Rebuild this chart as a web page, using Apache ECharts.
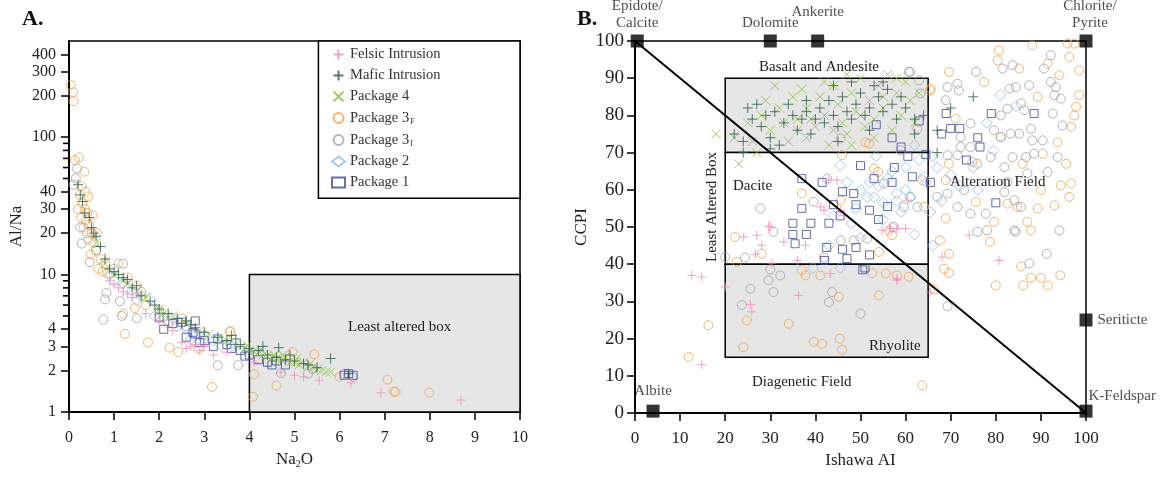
<!DOCTYPE html>
<html>
<head>
<meta charset="utf-8">
<script src="https://cdn.jsdelivr.net/npm/echarts@6/dist/echarts.min.js"></script>
<style>
html, body { margin: 0; padding: 0; background: #fff; }
#chart { width: 1165px; height: 477px; }
</style>
</head>
<body>
<div id="chart"></div>
<script>
// ---- panel A: Na2O vs Al/Na ----
const felsicA = [[0.9,9.0],[1.0,8.5],[1.1,8.0],[1.2,7.5],[1.3,7.2],[1.4,6.8],[1.5,7.3],[1.7,5.2],[2.0,4.5],[2.3,3.9],[2.5,3.2],[2.6,2.9],[2.7,3.0],[2.8,3.1],[2.9,2.8],[3.0,3.0],[3.2,2.6],[3.5,2.7],[4.1,2.3],[4.7,1.95],[5.0,1.85],[5.2,1.8],[5.55,1.7],[6.25,1.63],[6.92,1.38],[8.69,1.22]];
const maficA = [[0.2,45],[0.25,38],[0.3,34],[0.35,28],[0.45,26],[0.5,22],[0.55,20],[0.6,19],[0.7,16],[0.8,13],[0.9,11],[1.0,10.5],[1.1,10],[1.2,9.5],[1.3,9.2],[1.4,8],[1.5,8.3],[1.6,7],[1.8,6.4],[1.9,6.0],[2.0,5.6],[2.2,5.2],[2.4,4.8],[2.5,4.4],[2.6,4.6],[2.7,4.3],[2.8,4.1],[3.0,3.8],[3.3,3.5],[3.5,3.3],[3.6,3.6],[3.7,3.4],[3.8,3.1],[4.0,2.9],[4.2,2.8],[4.3,3.0],[4.4,2.6],[4.6,2.5],[4.65,2.94],[4.8,2.4],[4.9,2.6],[5.0,2.35],[5.2,2.25],[5.3,2.2],[5.5,2.1],[5.8,2.45],[6.2,1.9]];
const pkg4A = [[0.6,17],[0.8,12],[1.0,10],[1.2,9],[1.3,8.5],[1.5,7.5],[1.7,6.8],[2.0,5.6],[2.1,5.2],[2.3,5],[2.6,4.4],[2.9,3.9],[3.1,3.7],[3.3,3.4],[3.5,3.3],[3.7,3.1],[3.8,2.95],[3.9,2.9],[3.95,3.05],[4.0,2.8],[4.1,2.75],[4.2,2.7],[4.25,2.85],[4.3,2.6],[4.4,2.55],[4.5,2.5],[4.55,2.6],[4.6,2.45],[4.7,2.4],[4.75,2.6],[4.8,2.5],[4.9,2.3],[5.0,2.3],[5.05,2.45],[5.1,2.2],[5.2,2.3],[5.3,2.15],[5.35,2.25],[5.4,2.1],[5.5,2.05],[5.6,2.0],[5.7,1.95],[5.8,1.95]];
const pkg3fA = [[0.04,239],[0.09,212],[0.1,182],[0.13,68],[0.22,71],[0.34,56],[0.28,44],[0.24,38],[0.43,37],[0.36,40],[0.2,30],[0.3,33],[0.35,30],[0.4,28],[0.27,26],[0.52,27],[0.38,25],[0.45,23],[0.32,22],[0.5,20],[0.62,20],[0.42,18],[0.55,17],[0.6,15],[0.48,14],[0.7,13],[0.8,12],[1.1,12],[0.65,11],[0.75,10.5],[0.85,10.2],[1.3,9.5],[1.5,8.3],[1.7,6],[1.46,5.7],[1.2,5.2],[2.0,5.5],[2.5,4.8],[2.2,4.4],[1.24,3.7],[1.75,3.2],[2.42,2.73],[2.23,2.94],[2.86,2.9],[3.56,3.82],[3.58,3.87],[3.17,1.52],[4.08,1.29],[4.1,1.88],[4.6,1.56],[4.96,2.73],[5.44,2.63],[6.0,1.8],[7.06,1.72],[7.2,1.41],[7.24,1.4],[7.99,1.38]];
const pkg3iA = [[0.15,50],[0.18,59],[0.1,45],[0.25,22],[0.28,16.8],[0.4,20],[0.46,12.3],[0.6,15],[0.76,4.7],[0.8,6.6],[0.83,7.35],[1.0,11],[1.13,6.4],[1.17,5],[1.2,12],[1.5,4.8],[1.6,7.5],[2.1,4.9],[2.6,4.2],[3.0,3.6],[3.3,2.19],[3.75,2.19],[4.7,1.92],[5.3,1.9],[5.4,2.05],[6.1,1.9],[6.3,1.8]];
const pkg2A = [[0.9,10],[1.0,9],[1.2,8.6],[1.3,8],[1.5,6.5],[1.6,7],[1.8,6.6],[1.9,5],[2.0,5.3],[2.2,4.6],[2.3,4.8],[2.4,4.2],[2.6,4.0],[2.7,3.4],[2.8,3.6],[3.0,3.4],[3.2,3.3],[3.4,3.0],[3.6,3.0]];
const pkg1A = [[2.0,4.9],[2.1,4.0],[2.3,4.4],[2.5,4.5],[2.6,3.5],[2.75,3.8],[2.8,4.6],[2.8,3.7],[2.9,3.2],[3.0,3.3],[3.2,3.0],[3.3,3.4],[3.5,3.1],[3.6,2.9],[3.8,2.8],[3.9,2.55],[4.0,2.6],[4.2,2.4],[4.4,2.3],[4.5,2.2],[4.6,2.35],[4.8,2.2],[6.1,1.85],[6.2,1.9],[6.3,1.85]];
const logMajor = [1, 2, 3, 4, 10, 20, 30, 40, 100, 200, 300, 400];
const logMinor = [5, 6, 7, 8, 9, 50, 60, 70, 80, 90];
const legendBoxA = [[5.53, 35.9], [10, 500]];
const leastBoxA = [[4, 1], [10, 10]];

// ---- panel B: Ishikawa AI vs CCPI ----
const felsicB = [[12.6,37],[14.8,36.6],[20,33.9],[25.6,29.2],[25.9,27.2],[14.8,13],[36.3,31.6],[24.1,47.3],[27,47.8],[28.1,45.1],[26.7,42.7],[33,46],[30.4,40.3],[36,41],[37.8,45.1],[43.3,37.5],[29.6,50.2],[44.8,62.6],[41.1,55.4],[58.1,49.6],[60,49.6],[46.3,53.1],[60.4,57.2],[58.1,36.1],[30.1,50],[54.8,49.1],[56.7,49.6],[43,62.6],[45.6,54.5],[41.9,54.5],[68.1,41.9],[80.7,41],[58.1,35.7],[65.6,32.5],[74.1,47.8]];
const maficB = [[22,75],[24,73],[24,70],[25,82],[26,79],[27,83],[28,77],[29,80],[30,74],[30,71],[31,81],[32,72],[33,78],[34,83],[35,80],[36,76],[37,79],[38,81],[38,84],[39,75],[40,79],[41,82],[42,78],[43,84],[44,80],[44,88],[45,77],[45,73],[46,85],[47,81],[48,79],[48,89],[49,83],[50,86],[51,80],[52,82],[52,76],[53,88],[54,85],[55,81],[55,89],[56,87],[57,83],[58,79],[59,85],[60,82],[62,79],[62,75],[64,80],[67,76],[67,70],[70,82],[75,85]];
const pkg4B = [[18,75],[23,67],[27,70],[22,74],[25,78],[26,73],[28,80],[29,84],[30,76],[31,88],[32,82],[33,78],[34,73],[35,85],[36,79],[36,76],[37,87],[38,74],[38,82],[39,79],[40,77],[41,85],[42,80],[42,89],[43,72],[44,88],[44,76],[45,83],[46,78],[47,75],[47,91],[48,86],[48,72],[49,81],[50,90],[50,80],[51,77],[52,84],[53,79],[53,74],[54,88],[55,82],[55,85],[56,91],[57,76],[58,86],[58,90],[59,80],[60,89],[61,84],[62,78],[63,86]];
const pkg3fB = [[80.7,97.5],[88.1,98.8],[95.9,99.3],[97.4,99.3],[80.4,94.8],[85.2,92.6],[91.5,93.9],[96.3,95.7],[98.5,92.1],[94.1,90.8],[77.4,89],[69.6,91.7],[65.6,87.2],[65.4,86.7],[89.3,85],[98.5,85.4],[97.8,82.3],[97.4,80],[96.7,76.9],[71.1,79.1],[81.1,74.2],[90.4,69.7],[93.7,72.8],[95.6,67],[85.9,67],[74.8,67.5],[69.6,67],[63.7,62.6],[68.9,62.6],[94.4,61.2],[96.7,61.7],[96.3,58.1],[90,59.9],[75.6,56.7],[82.6,56.3],[84.8,55.4],[93,55.8],[89.3,55],[79.6,51.4],[87,51.4],[87.8,49.1],[68.9,52.3],[64.1,55.4],[67.6,46.4],[69.6,42.8],[78.7,46],[68.5,38.8],[69.6,37.6],[85.6,39.4],[87.8,36.3],[90,36.3],[91.5,34.3],[86.1,34.3],[80,34.3],[94.3,37],[66.3,33.2],[63.7,7.4],[54.1,31.6],[52.6,37.6],[55.6,37.5],[58.1,37],[60.7,36.6],[54.1,43.3],[57,47.8],[56.3,49.1],[53,65.7],[53.9,64.8],[45.6,57.2],[37,59],[22.2,47.3],[22.6,40.6],[28.1,42.8],[37,38.4],[37.8,37],[41.1,37],[45.2,31.2],[24.8,24.9],[34.1,24],[24,17.7],[39.6,19.1],[41.5,18.6],[45.4,20],[45.9,17],[16.3,23.6],[11.9,15.1],[51.9,72.4],[45.9,69.3],[51.1,72.8]];
const pkg3iB = [[75.6,91.7],[81.5,92.6],[83.7,93.5],[92.2,96.2],[90.7,92.6],[69.3,87.6],[71.5,88.5],[71.8,86.7],[68.9,84.1],[83,87.2],[84.4,87.6],[87.4,88.1],[92.2,89],[93.3,87.6],[93,85.4],[94.4,84.5],[85.6,83.2],[86.3,81.4],[82.6,81.8],[81.1,80],[79.6,76],[81.1,74.2],[83.3,75.1],[85.2,75.1],[87.8,76.4],[88.1,73.3],[90.4,73.3],[92.6,80.5],[94.8,77.3],[74.4,77.8],[72.2,74.2],[74.4,71.5],[72.2,71.5],[71.5,69.3],[69.3,69.3],[75.9,67],[78.9,68.8],[81.9,66.1],[83.7,68.8],[86.7,68.8],[88.5,69.7],[91.5,64.8],[93.7,68.8],[87,64.4],[82.6,62.1],[73,59.9],[69.3,59],[81.9,59.4],[84.1,57.2],[85.6,55.4],[77.8,53.6],[74.4,53.6],[71.5,55.4],[84.1,49.1],[94.1,49.1],[63,89.4],[60.7,91.7],[84.4,48.7],[91.3,42.8],[87.4,40.2],[69.3,28.7],[75.9,48.7],[78.1,49.1],[27.8,55],[20,41.9],[24.4,41.8],[30,38.6],[32.2,37],[29.6,35.7],[25.6,33.4],[30.7,32.5],[23.7,29],[43,29.8],[43.7,32.5],[50,26.7],[41.9,41.8],[39.6,56.8],[30.7,48.7],[42.6,63],[45.6,46.4],[48.5,46.4],[51.5,46.9],[57.4,50],[59.6,55.4],[62.6,55.4],[55.2,61.7],[61.1,58.1],[67,58.1],[61,91.7],[63.3,85.9],[62.6,76.4],[45.6,73.8],[58.9,70.6]];
const pkg2B = [[45.5,66.5],[53.5,69],[49,55],[62,48],[45.5,39],[39.5,39],[65.5,54],[58,59],[55,56.5],[51.5,58],[66,69],[64,63.5],[81,85.5],[84.5,82.5],[78,78],[79.5,70.5],[76,60],[67,66],[63,68],[64.5,62],[50,60],[52,62],[54,61],[56,63],[58,57],[60,60],[55,52],[57,50],[59,54],[48,51],[47,62],[53,58],[61,58],[43,45],[70,64],[72,61],[75,66],[68,57],[57,65],[60,66],[44,53],[50,47],[66,45],[62,72]];
const pkg1B = [[37,63],[41.5,62],[37,55],[35,51],[39,51],[38,48],[35,48],[35.5,45.5],[42.5,44.5],[46,44],[49,44.5],[42,41],[52,42.5],[51,39],[47,41.5],[43,51],[45.5,53],[48.5,59],[50,66.5],[53,63],[57.5,66],[60.5,69],[65.5,62],[61.5,63.5],[54,52],[56,55.5],[46,59.5],[44,56],[49,56],[52,54.5],[57,62],[69,80.5],[79,80.5],[88.5,80.5],[63,78.5],[68,75],[70,76.5],[72,76.5],[76,74],[76.5,71.5],[73.5,68],[80,56.5],[57,74],[59,71.5],[53.5,77.5],[64.5,69.5],[50.5,38.5]];
const endMembers = [[0.5,100],[30,100],[40.5,100],[100,100],[4,0.5],[100,25],[100,0.5]];
const endNames = ['Epidote/\nCalcite','Dolomite','Ankerite','Chlorite/\nPyrite','Albite','Seriticte','K-Feldspar'];
const boxesB = [[[20,70],[65,90]], [[20,40],[65,70]], [[20,15],[65,40]]];
const diagonalB = [[0,100],[100,0]];

const FONT = '"Liberation Serif", "DejaVu Serif", serif';
const INK = '#222';
const PLUS = 'path://M5,0L5,10M0,5L10,5';
const CROSS = 'path://M0,0L10,10M10,0L0,10';

const groups = [
  { name: 'Package 3F', a: pkg3fA, b: pkg3fB, symbol: 'circle', size: 9, color: '#f2a44a' },
  { name: 'Package 3I', a: pkg3iA, b: pkg3iB, symbol: 'circle', size: 9, color: '#a2a2a2' },
  { name: 'Package 2', a: pkg2A, b: pkg2B, symbol: 'diamond', size: 11, color: '#8dbdea' },
  { name: 'Package 1', a: pkg1A, b: pkg1B, symbol: 'rect', size: 8, color: '#3d4a9e' },
  { name: 'Felsic Intrusion', a: felsicA, b: felsicB, symbol: PLUS, size: 9, color: '#f48fb7' },
  { name: 'Package 4', a: pkg4A, b: pkg4B, symbol: CROSS, size: 9, color: '#8cc43c' },
  { name: 'Mafic Intrusion', a: maficA, b: maficB, symbol: PLUS, size: 10, color: '#2c5d47' }
];

function pts(g, data, panel) {
  return {
    type: 'scatter', name: g.name, data: data,
    xAxisIndex: panel, yAxisIndex: panel,
    symbol: g.symbol, symbolSize: g.size,
    itemStyle: { color: 'rgba(255,255,255,0)', borderColor: g.color, borderWidth: 1 },
    emphasis: { disabled: true }
  };
}

const series = [];
// boxes of panel A
series.push({
  type: 'scatter', name: 'boxesA', xAxisIndex: 0, yAxisIndex: 0, data: [], silent: true,
  markArea: {
    silent: true,
    itemStyle: { borderColor: '#000', borderWidth: 1.5 },
    data: [
      [{ coord: leastBoxA[0], itemStyle: { color: '#e6e6e6' } }, { coord: leastBoxA[1] }],
      [{ coord: legendBoxA[0], itemStyle: { color: '#fff' } }, { coord: legendBoxA[1] }]
    ]
  }
});
// short minor ticks (5-9, 50-90) on the log axis of panel A
series.push({
  type: 'scatter', name: 'minorTicksA', xAxisIndex: 0, yAxisIndex: 0, silent: true, clip: false, z: 8,
  symbol: 'rect', symbolSize: [5, 1.6], symbolOffset: [-3.5, 0],
  itemStyle: { color: '#000', opacity: 1 }, emphasis: { disabled: true },
  data: logMinor.map(v => [0, v])
});
// boxes and diagonal of panel B
series.push({
  type: 'scatter', name: 'boxesB', xAxisIndex: 1, yAxisIndex: 1, data: [], silent: true,
  markArea: {
    silent: true,
    itemStyle: { borderColor: '#000', borderWidth: 1.5 },
    data: boxesB.map((b, i) => [{ coord: b[0], itemStyle: { color: i === 1 ? '#fff' : '#e6e6e6' } }, { coord: b[1] }])
  },
  markLine: {
    silent: true, symbol: 'none', label: { show: false },
    lineStyle: { color: '#000', width: 2, type: 'solid' },
    data: [[{ coord: diagonalB[0] }, { coord: diagonalB[1] }]]
  }
});
groups.forEach(g => { series.push(pts(g, g.a, 0)); series.push(pts(g, g.b, 1)); });

// end-member squares
const endLabel = [
  { position: 'top', distance: 3 },
  { position: 'top', distance: 3 },
  { position: 'top', distance: 14 },
  { position: 'top', distance: 3, offset: [4, 0] },
  { position: 'top', distance: 5 },
  { position: 'right', distance: 5 },
  { position: 'right', distance: 5, offset: [-9, -15] }
];
series.push({
  type: 'scatter', name: 'endmembers', xAxisIndex: 1, yAxisIndex: 1, clip: false, z: 6,
  symbol: 'rect', symbolSize: 13, itemStyle: { color: '#000' },
  emphasis: { disabled: true },
  data: endMembers.map((p, i) => ({
    value: p,
    label: Object.assign({ show: true, formatter: endNames[i], fontFamily: FONT, fontSize: 15, color: INK, lineHeight: 17 }, endLabel[i])
  }))
});

const labelFont = { fontFamily: FONT, color: INK };
const txt = (t, x, y, extra) => ({
  type: 'text', x: x, y: y, z: 10,
  style: Object.assign({ text: t, font: '15px ' + FONT, fill: INK, align: 'left', verticalAlign: 'middle' }, extra || {})
});

const option = {
  animation: false,
  backgroundColor: '#fff',
  grid: [
    { left: 69, right: 645, top: 41, bottom: 65, show: true, borderColor: '#000', borderWidth: 1.5, backgroundColor: 'transparent' },
    { left: 635, right: 79, top: 41, bottom: 64, show: true, borderColor: '#000', borderWidth: 1.5, backgroundColor: 'transparent' }
  ],
  legend: {
    data: ['Felsic Intrusion', 'Mafic Intrusion', 'Package 4', 'Package 3F', 'Package 3I', 'Package 2', 'Package 1'],
    orient: 'vertical', left: 326, top: 42,
    itemWidth: 13, itemHeight: 10, itemGap: 6,
    selectedMode: false,
    formatter: n => n === 'Package 3F' ? '{n|Package 3}{s|F}' : n === 'Package 3I' ? '{n|Package 3}{s|I}' : '{n|' + n + '}',
    textStyle: {
      color: '#333', fontFamily: FONT,
      rich: { n: { fontSize: 14.5, fontFamily: FONT, color: '#333', lineHeight: 15 }, s: { fontSize: 8, fontFamily: FONT, color: '#333', padding: [8, 0, 0, 1], lineHeight: 8 } }
    }
  },
  xAxis: [
    {
      type: 'value', gridIndex: 0, min: 0, max: 10, interval: 1,
      axisLine: { lineStyle: { color: '#000', width: 2 } },
      axisTick: { length: 8, lineStyle: { color: '#000', width: 1.5 } },
      axisLabel: Object.assign({ fontSize: 16, margin: 18 }, labelFont),
      splitLine: { show: false },
      name: '{n|Na}{s|2}{n|O}', nameLocation: 'middle', nameGap: 37,
      nameTextStyle: { rich: { n: { fontSize: 17, fontFamily: FONT, color: INK }, s: { fontSize: 10, fontFamily: FONT, color: INK, padding: [9, 0, 0, 0] } } }
    },
    {
      type: 'value', gridIndex: 1, min: 0, max: 100, interval: 10,
      axisLine: { lineStyle: { color: '#000', width: 2 } },
      axisTick: { length: 8, lineStyle: { color: '#000', width: 1.5 } },
      axisLabel: Object.assign({ fontSize: 17, margin: 17 }, labelFont),
      splitLine: { show: false },
      name: 'Ishawa AI', nameLocation: 'middle', nameGap: 38,
      nameTextStyle: Object.assign({ fontSize: 17 }, labelFont)
    }
  ],
  yAxis: [
    {
      type: 'log', logBase: 10, gridIndex: 0, min: 1, max: 500,
      axisLine: { show: true, lineStyle: { color: '#000', width: 2 } },
      axisTick: { show: true, length: 8, customValues: logMajor, lineStyle: { color: '#000', width: 1.5 } },
      axisLabel: Object.assign({ customValues: logMajor, fontSize: 16, margin: 13 }, labelFont),
      splitLine: { show: false }, minorTick: { show: false },
      name: 'Al/Na', nameLocation: 'middle', nameGap: 44,
      nameTextStyle: Object.assign({ fontSize: 17 }, labelFont)
    },
    {
      type: 'value', gridIndex: 1, min: 0, max: 100, interval: 10,
      axisLine: { lineStyle: { color: '#000', width: 2 } },
      axisTick: { length: 8, lineStyle: { color: '#000', width: 1.5 } },
      axisLabel: Object.assign({ fontSize: 19, margin: 11 }, labelFont),
      splitLine: { show: false },
      name: 'CCPI', nameLocation: 'middle', nameGap: 45,
      nameTextStyle: Object.assign({ fontSize: 17 }, labelFont)
    }
  ],
  graphic: [
    txt('A.', 22, 19, { font: 'bold 22px ' + FONT, fill: '#111' }),
    txt('B.', 577, 19, { font: 'bold 22px ' + FONT, fill: '#111' }),
    txt('Least altered box', 348, 327),
    txt('Basalt and Andesite', 759, 67),
    txt('Dacite', 733, 186),
    { type: 'text', x: 712, y: 207, rotation: Math.PI / 2, z: 10,
      style: { text: 'Least Altered Box', font: '15px ' + FONT, fill: INK, align: 'center', verticalAlign: 'middle' } },
    txt('Alteration Field', 950, 182),
    txt('Rhyolite', 869, 346),
    txt('Diagenetic Field', 752, 382)
  ],
  series: series
};

const chart = echarts.init(document.getElementById('chart'));
chart.setOption(option);
</script>
</body>
</html>
